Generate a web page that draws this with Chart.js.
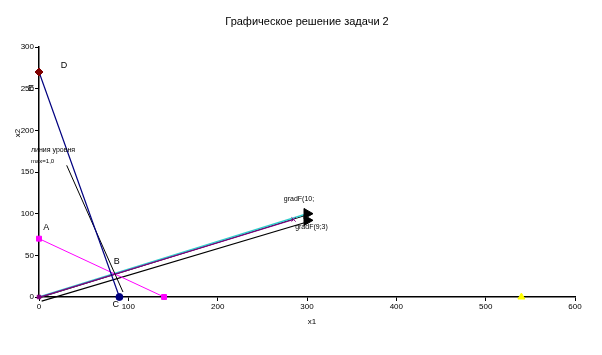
<!DOCTYPE html>
<html><head><meta charset="utf-8">
<script src="https://cdn.jsdelivr.net/npm/chart.js@4.4.0/dist/chart.umd.min.js"></script>
<style>html,body{margin:0;padding:0;background:#fff}#wrap{width:602px;height:355px}</style>
</head><body><div id="wrap"><canvas id="c" width="602" height="355"></canvas></div>
<script>
const titleText = "Графическое решение задачи 2";
const xTitle = "x1";
const yTitle = "x2";
const xTicks = [0,100,200,300,400,500,600];
const yTicks = [0,50,100,150,200,250,300];

const lineDC = [{x:0,y:270},{x:90,y:0}];
const lineAB = [{x:0,y:70},{x:140,y:0}];
const levelLine = [{x:31,y:158},{x:94,y:6}];
const gradMain = [{x:0,y:0},{x:300,y:100}];
const gradShadow = [{x:0,y:-1},{x:300,y:98.5}];
const gradPurple = [{x:0,y:-0.5},{x:285,y:93}];
const gradLower = [{x:3,y:-5},{x:300,y:90}];
const arrowHeads = [{x:300,y:100},{x:300,y:92}];
const pointD = [{x:0,y:270}];
const pointC = [{x:90,y:0}];
const pointsAB = [{x:0,y:70},{x:140,y:0}];
const pointOrigin = [{x:0,y:0}];
const purpleEnd = [{x:285,y:93}];
const pointYellow = [{x:540,y:0}];

const labels = [
  {t:"D", x:28, y:278},
  {t:"A", x:8, y:83},
  {t:"B", x:87, y:42},
  {t:"C", x:86, y:-9},
  {t:"E", x:-9, y:250},
  {t:"gradF(10;", x:291, y:118, s:7},
  {t:"gradF(9;3)", x:305, y:84, s:7},
  {t:"линия уровня", x:-9, y:176, s:7, a:"left"},
  {t:"max=1,0", x:-9, y:163, s:6, a:"left"}
];

const textPlugin = {
  id:'texts',
  afterDatasetsDraw(chart){
    const ctx = chart.ctx, xs = chart.scales.x, ys = chart.scales.y;
    ctx.save();
    ctx.fillStyle = '#000';
    ctx.textBaseline = 'middle';
    labels.forEach(l=>{
      ctx.font = (l.s||9)+'px "Liberation Sans", Arial, sans-serif';
      ctx.textAlign = l.a||'center';
      ctx.fillText(l.t, xs.getPixelForValue(l.x), ys.getPixelForValue(l.y));
    });
    ctx.font = '8px "Liberation Sans", Arial, sans-serif';
    ctx.textAlign='center';
    ctx.fillText(xTitle,(xs.left+xs.right)/2+5,322);
    ctx.translate(18,133);
    ctx.rotate(-Math.PI/2);
    ctx.fillText(yTitle,0,0);
    ctx.restore();
  }
};

const ln = (data,color,w)=>({data, showLine:true, borderColor:color, borderWidth:w||1, pointRadius:0, fill:false, clip:false});
const pt = (data,style,color,r,rot)=>({data, showLine:false, pointStyle:style, pointRadius:r, pointBackgroundColor:color, pointBorderColor:color, pointRotation:rot||0, clip:false});

// first dataset is drawn on top
new Chart(document.getElementById('c'),{
  type:'scatter',
  data:{datasets:[
    pt(pointYellow,'triangle','#FFFF00',4),
    pt(arrowHeads,'triangle','#000',6,90),
    pt(pointD,'rectRot','#800000',4),
    pt(pointC,'circle','#000080',3.5),
    pt(pointsAB,'rect','#FF00FF',3.5),
    pt(pointOrigin,'rect','#800080',2.5),
    pt(purpleEnd,'crossRot','#800080',3),
    ln(lineDC,'#000080',1.2),
    ln(levelLine,'#000',1),
    ln(lineAB,'#FF00FF',1),
    ln(gradPurple,'#800080',1.2),
    ln(gradMain,'#33CCCC',1.5),
    ln(gradShadow,'#000',1),
    ln(gradLower,'#000',1.2)
  ]},
  options:{
    responsive:false, animation:false, devicePixelRatio:1,
    layout:{padding:{top:47,right:27,left:0,bottom:0}},
    plugins:{legend:{display:false}, tooltip:{enabled:false}, title:{display:false}},
    scales:{
      x:{type:'linear', min:0, max:600,
        afterBuildTicks:s=>{s.ticks = xTicks.map(v=>({value:v}));},
        afterFit:s=>{s.height=58;},
        grid:{display:true, drawOnChartArea:false, drawTicks:true, tickLength:4, color:'#000'},
        border:{color:'#000', width:1.5},
        ticks:{color:'#000', font:{size:8, family:'"Liberation Sans", Arial'}, padding:1, maxRotation:0}
      },
      y:{type:'linear', min:0, max:300,
        afterBuildTicks:s=>{s.ticks = yTicks.map(v=>({value:v}));},
        afterFit:s=>{s.width=39;},
        grid:{display:true, drawOnChartArea:false, drawTicks:true, tickLength:4, color:'#000'},
        border:{color:'#000', width:1.5},
        ticks:{color:'#000', font:{size:8, family:'"Liberation Sans", Arial'}, padding:1}
      }
    }
  },
  plugins:[textPlugin, {id:'title', afterDraw(chart){
    const ctx=chart.ctx; ctx.save(); ctx.fillStyle='#000';
    ctx.font='11px "Liberation Sans", Arial, sans-serif'; ctx.textAlign='center'; ctx.textBaseline='middle';
    ctx.fillText(titleText, 307, 22); ctx.restore();}}]
});
</script></body></html>
